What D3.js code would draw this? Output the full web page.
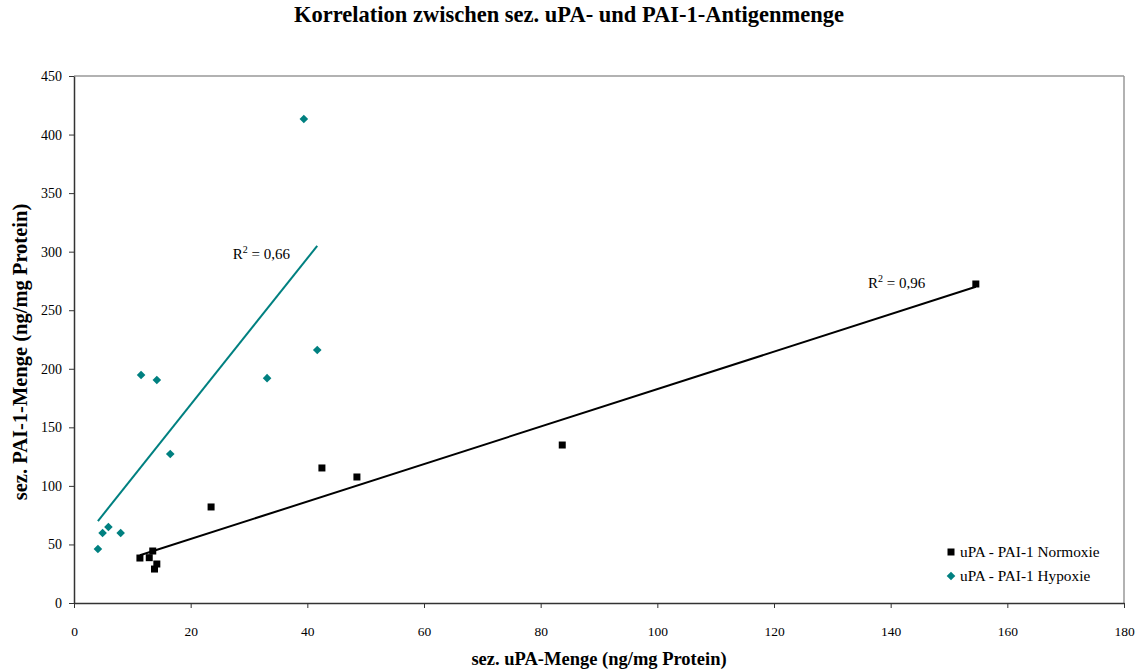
<!DOCTYPE html>
<html><head><meta charset="utf-8">
<script src="https://cdn.jsdelivr.net/npm/d3@7"></script>
<style>body{margin:0;background:#fff;}svg{display:block;}svg text{font-family:"Liberation Serif","Times New Roman",serif !important;}</style>
</head><body>
<svg id="chart" width="1139" height="670"></svg>
<script>
const normoxieX = [154.6, 83.7, 48.5, 42.5, 23.5, 11.3, 12.9, 13.5, 14.2, 13.8];
const normoxieY = [272.4, 134.9, 107.6, 115.3, 82.0, 38.4, 38.7, 44.4, 33.3, 29.0];
const hypoxieX = [39.4, 41.7, 33.1, 11.5, 14.2, 16.5, 4.1, 4.9, 5.9, 8.0];
const hypoxieY = [413.3, 216.0, 192.0, 194.7, 190.4, 127.2, 46.1, 59.8, 64.9, 59.8];
const xTicks = [0, 20, 40, 60, 80, 100, 120, 140, 160, 180];
const yTicks = [0, 50, 100, 150, 200, 250, 300, 350, 400, 450];
const seriesNames = ["uPA - PAI-1 Normoxie", "uPA - PAI-1 Hypoxie"];
const r2Labels = ["0,96", "0,66"];
const colors = ["#000000", "#008080"];

const FONT = '"Liberation Serif", "Times New Roman", serif';
const svg = d3.select("#chart");
const L = 74, R = 1124, T = 76, B = 603;
const x = d3.scaleLinear().domain([0, 180]).range([L, R]);
const y = d3.scaleLinear().domain([0, 450]).range([B, T]);

// plot frame (top/right gray)
svg.append("line").attr("x1", L).attr("x2", R).attr("y1", T).attr("y2", T).attr("stroke", "#999").attr("stroke-width", 1.5);
svg.append("line").attr("x1", R).attr("x2", R).attr("y1", T).attr("y2", B).attr("stroke", "#999").attr("stroke-width", 1.5);

const xAxis = svg.append("g").attr("transform", `translate(0,${B})`)
  .call(d3.axisBottom(x).tickValues(xTicks).tickSize(5).tickPadding(18).tickSizeOuter(0));
const yAxis = svg.append("g").attr("transform", `translate(${L},0)`)
  .call(d3.axisLeft(y).tickValues(yTicks).tickSize(5).tickPadding(7).tickSizeOuter(0));
[[xAxis, 13.5], [yAxis, 14]].forEach(([a, fs]) => {
  a.attr("font-family", null).attr("font-size", fs);
  a.selectAll("path").attr("stroke", "#333").attr("stroke-width", 1.5);
  a.selectAll("line").attr("stroke", "#333").attr("stroke-width", 1);
  a.selectAll("text").attr("fill", "#000").style("font-family", FONT).style("font-size", fs + "px");
});

function regression(xs, ys) {
  const n = xs.length, mx = d3.mean(xs), my = d3.mean(ys);
  let sxy = 0, sxx = 0;
  for (let i = 0; i < n; i++) { sxy += (xs[i]-mx)*(ys[i]-my); sxx += (xs[i]-mx)**2; }
  const b = sxy / sxx, a = my - b*mx;
  return {a, b, x0: d3.min(xs), x1: d3.max(xs)};
}

const squarePath = "M-3.5,-3.5H3.5V3.5H-3.5Z";
const diamondPath = "M0,-4.3L4.3,0L0,4.3L-4.3,0Z";
const series = [
  {xs: normoxieX, ys: normoxieY, color: colors[0], d: squarePath},
  {xs: hypoxieX, ys: hypoxieY, color: colors[1], d: diamondPath}
];

series.forEach(s => {
  const r = regression(s.xs, s.ys);
  svg.append("line")
    .attr("x1", x(r.x0)).attr("y1", y(r.a + r.b*r.x0))
    .attr("x2", x(r.x1)).attr("y2", y(r.a + r.b*r.x1))
    .attr("stroke", s.color).attr("stroke-width", 2);
});
series.forEach(s => {
  svg.append("g").selectAll("path").data(s.xs.map((v,i)=>[v, s.ys[i]])).join("path")
    .attr("transform", d => `translate(${x(d[0])},${y(d[1])})`)
    .attr("d", s.d)
    .attr("fill", s.color);
});

// R² labels
function r2(xp, yp, val) {
  const t = svg.append("text").attr("x", xp).attr("y", yp).attr("font-size", 15).attr("fill", "#000");
  t.append("tspan").text("R");
  t.append("tspan").attr("dy", -6).attr("font-size", 10).text("2");
  t.append("tspan").attr("dy", 6).text(" = " + val);
}
r2(x(27.2), y(294), r2Labels[1]);
r2(x(136.1), y(269), r2Labels[0]);

// legend
series.forEach((s, i) => {
  const ly = 552 + i*24;
  svg.append("path").attr("transform", `translate(951,${ly})`)
    .attr("d", s.d).attr("fill", s.color);
  svg.append("text").attr("x", 960).attr("y", ly + 5).attr("font-size", 15.3).text(seriesNames[i]);
});

// titles
svg.append("text").attr("x", 569).attr("y", 22).attr("text-anchor", "middle")
  .attr("font-size", 22.5).attr("font-weight", "bold").text("Korrelation zwischen sez. uPA- und PAI-1-Antigenmenge");
svg.append("text").attr("x", (L+R)/2).attr("y", 665).attr("text-anchor", "middle")
  .attr("font-size", 18.5).attr("font-weight", "bold").text("sez. uPA-Menge (ng/mg Protein)");
svg.append("text").attr("transform", `translate(27,352) rotate(-90)`).attr("text-anchor", "middle")
  .attr("font-size", 20.5).attr("font-weight", "bold").text("sez. PAI-1-Menge (ng/mg Protein)");
</script>
</body></html>
